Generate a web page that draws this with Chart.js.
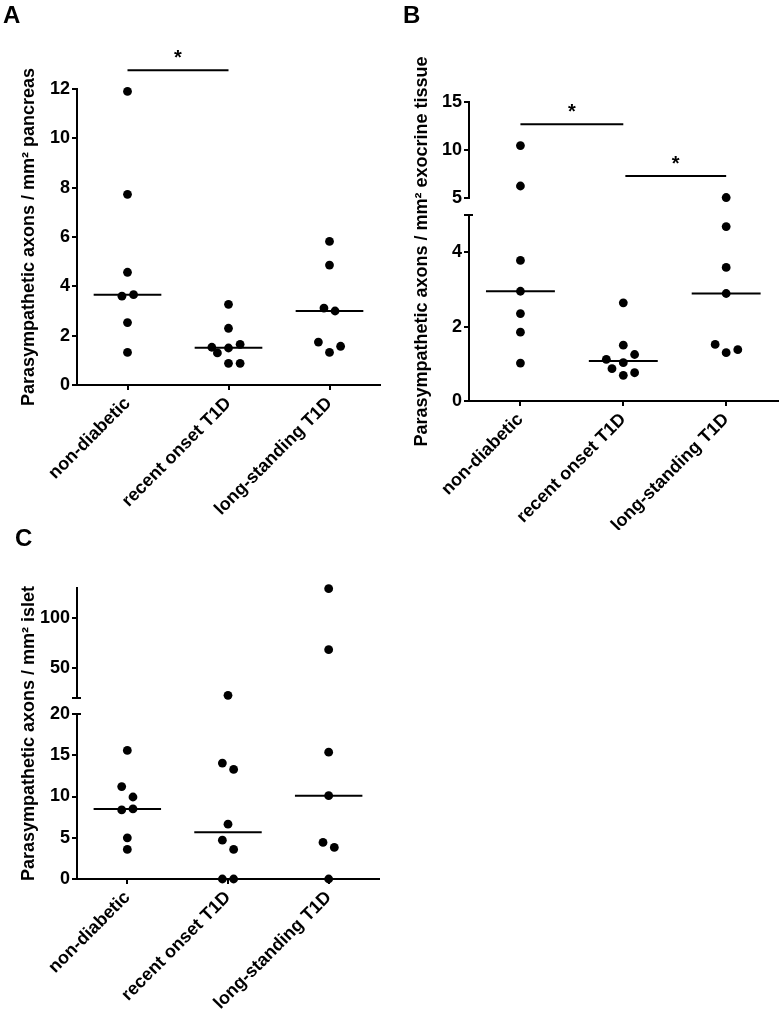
<!DOCTYPE html>
<html>
<head>
<meta charset="utf-8">
<script src="https://cdn.jsdelivr.net/npm/chart.js@4.4.1/dist/chart.umd.min.js"></script>
<style>
  body { margin: 0; background: #fff; }
  #wrap { position: relative; width: 782px; height: 1016px; }
  canvas { position: absolute; }
</style>
</head>
<body>
<div id="wrap">
  <canvas id="a" width="391" height="530" style="left:0;top:0"></canvas>
  <canvas id="bLow" width="391" height="530" style="left:391px;top:0"></canvas>
  <canvas id="bHigh" width="391" height="530" style="left:391px;top:0"></canvas>
  <canvas id="cLow" width="391" height="496" style="left:0;top:520px"></canvas>
  <canvas id="cHigh" width="391" height="496" style="left:0;top:520px"></canvas>
</div>
<script>
const groups = ['non-diabetic', 'recent onset T1D', 'long-standing T1D'];

// A - parasympathetic axons / mm2 pancreas
const pancreasNonDiabetic = [11.9, 7.73, 4.57, 3.6, 3.66, 2.53, 1.32];
const pancreasRecent = [3.27, 2.3, 1.53, 1.3, 1.5, 1.65, 0.88, 0.88];
const pancreasLong = [5.82, 4.86, 3.12, 3.0, 1.74, 1.32, 1.57];
const pancreasTicks = [0, 2, 4, 6, 8, 10, 12];

// B - per mm2 exocrine tissue (axis broken at 5)
const exoNonDiabetic = [10.46, 6.25, 3.78, 2.95, 2.35, 1.85, 1.02];
const exoRecent = [2.64, 1.5, 1.25, 1.12, 1.03, 0.87, 0.69, 0.76];
const exoLong = [5.05, 4.69, 3.59, 2.89, 1.52, 1.3, 1.38];
const exoLowTicks = [0, 2, 4, 5];
const exoHighTicks = [5, 10, 15];

// C - per mm2 islet (axis broken at 20)
const isletNonDiabetic = [15.58, 11.2, 9.94, 8.37, 8.49, 4.99, 3.58];
const isletRecent = [22.7, 14.05, 13.28, 6.64, 4.71, 3.58, 0, 0];
const isletLong = [129.3, 68.3, 15.37, 10.1, 4.43, 3.83, 0];
const isletLowTicks = [0, 5, 10, 15, 20];
const isletHighTicks = [20, 50, 100];

// sideways shift of touching dots (fraction of a category)
const pancreasShift = [[0, 0, 0, -0.055, 0.06, 0, 0], [0, 0, -0.165, -0.11, 0, 0.115, 0, 0.115], [0, 0, -0.055, 0.055, -0.11, 0, 0.11]];
const exoShift = [[0, 0, 0, 0, 0, 0, 0], [0, 0, 0.11, -0.165, 0, -0.11, 0, 0.11], [0, 0, 0, 0, -0.107, 0, 0.113]];
const isletShift = [[0, -0.056, 0.056, -0.056, 0.056, 0, 0], [0, -0.056, 0.056, 0, -0.056, 0.056, -0.056, 0.056], [0, 0, 0, 0, -0.056, 0.056, 0]];

// significance bars: [from group, to group, level]
const pancreasSig = [[0, 1, 12.76]];
const exoSig = [[0, 1, 12.68], [1.02, 2, 7.29]];

const FONT = 'Arial, "Liberation Sans", sans-serif';
const tickFont = { family: FONT, size: 18, weight: 'bold' };

function median(a) {
  const s = [...a].sort((p, q) => p - q);
  const n = s.length;
  return n % 2 ? s[(n - 1) / 2] : (s[n / 2 - 1] + s[n / 2]) / 2;
}

function dots(series, shift, lo, hi) {
  const pts = [];
  series.forEach((vals, g) => vals.forEach((v, i) => {
    if (v > lo && v <= hi) pts.push({ x: g + shift[g][i], y: v });
  }));
  return { data: pts, pointRadius: 4.4, pointHoverRadius: 4.4, backgroundColor: '#000', borderWidth: 0, clip: false };
}

function segment(x0, x1, y) {
  return { data: [{ x: x0, y: y }, { x: x1, y: y }], showLine: true, borderColor: '#000', borderWidth: 2, pointRadius: 0, clip: false };
}

function medians(series) {
  return series.map((vals, g) => segment(g - 0.335, g + 0.335, median(vals)));
}

function yScale(min, max, ticks, width, blank) {
  return {
    min: min, max: max,
    afterBuildTicks: s => { s.ticks = ticks.map(v => ({ value: v })); },
    afterFit: s => { s.width = width; },
    grid: { display: true, drawOnChartArea: false, drawTicks: true, tickLength: 5, lineWidth: 2, color: '#000' },
    border: { display: true, width: 2, color: '#000' },
    ticks: { color: '#000', font: tickFont, padding: 2, callback: v => (v === blank ? '' : v) }
  };
}

function xScale(height) {
  return {
    min: -0.5, max: 2.5,
    display: height > 0,
    afterBuildTicks: s => { s.ticks = [0, 1, 2].map(v => ({ value: v })); },
    afterFit: s => { s.height = height; },
    grid: { display: true, drawOnChartArea: false, drawTicks: true, tickLength: 5, lineWidth: 2, color: '#000' },
    border: { display: true, width: 2, color: '#000' },
    ticks: { color: '#000', font: tickFont, padding: 3, autoSkip: false, minRotation: 45, maxRotation: 45, callback: v => groups[v] }
  };
}

// panel letter, side title, stars and break caps
function decor(o) {
  return {
    id: 'decor',
    afterDraw(chart) {
      const ctx = chart.ctx, area = chart.chartArea;
      const xs = chart.scales.x, ys = chart.scales.y;
      ctx.save();
      ctx.fillStyle = '#000';
      ctx.strokeStyle = '#000';
      if (o.letter) {
        ctx.font = 'bold 24px ' + FONT;
        ctx.textAlign = 'left';
        ctx.textBaseline = 'alphabetic';
        ctx.fillText(o.letter[0], o.letter[1], o.letter[2]);
      }
      if (o.title) {
        const top = o.upper ? o.upper.chartArea.top : area.top;
        ctx.font = 'bold 18px ' + FONT;
        ctx.textAlign = 'center';
        ctx.textBaseline = 'middle';
        ctx.translate(o.titleX, (top + area.bottom) / 2);
        ctx.rotate(-Math.PI / 2);
        ctx.fillText(o.title, 0, 0);
        ctx.setTransform(1, 0, 0, 1, 0, 0);
      }
      (o.sig || []).forEach(s => {
        ctx.font = 'bold 20px ' + FONT;
        ctx.textAlign = 'center';
        ctx.textBaseline = 'alphabetic';
        const x = (xs.getPixelForValue(s[0]) + xs.getPixelForValue(s[1])) / 2;
        ctx.fillText('*', x, ys.getPixelForValue(s[2]) - 6);
      });
      (o.caps || []).forEach(c => {
        const y = c === 'top' ? area.top : area.bottom;
        ctx.lineWidth = 2;
        ctx.beginPath();
        ctx.moveTo(area.left - 4, y);
        ctx.lineTo(area.left + 4, y);
        ctx.stroke();
      });
      ctx.restore();
    }
  };
}

function make(id, datasets, scales, padding, plugin) {
  return new Chart(document.getElementById(id), {
    type: 'scatter',
    data: { datasets: datasets },
    options: {
      responsive: false,
      animation: false,
      devicePixelRatio: 1,
      events: [],
      layout: { padding: padding },
      plugins: { legend: { display: false }, tooltip: { enabled: false } },
      scales: scales
    },
    plugins: [plugin]
  });
}

// Panel A
const pancreas = [pancreasNonDiabetic, pancreasRecent, pancreasLong];
make('a',
  [dots(pancreas, pancreasShift, -1, 99)].concat(medians(pancreas), pancreasSig.map(s => segment(s[0], s[1], s[2]))),
  { x: xScale(145), y: yScale(0, 12, pancreasTicks, 77) },
  { top: 89, right: 11, left: 0, bottom: 0 },
  decor({ letter: ['A', 3, 23], title: 'Parasympathetic axons / mm\u00b2 pancreas', titleX: 29.5, sig: pancreasSig }));

// Panel B (two stacked pieces)
const exo = [exoNonDiabetic, exoRecent, exoLong];
const bHigh = make('bHigh',
  [dots(exo, exoShift, 5, 15)].concat(exoSig.map(s => segment(s[0], s[1], s[2]))),
  { x: xScale(0), y: yScale(5, 15, exoHighTicks, 78) },
  { top: 102, right: 3, left: 0, bottom: 332 },
  decor({ sig: exoSig }));
make('bLow',
  [dots(exo, exoShift, -1, 5)].concat(medians(exo)),
  { x: xScale(129), y: yScale(0, 5, exoLowTicks, 78, 5) },
  { top: 215, right: 3, left: 0, bottom: 0 },
  decor({ letter: ['B', 12, 23], title: 'Parasympathetic axons / mm\u00b2 exocrine tissue', titleX: 31, upper: bHigh, caps: ['top'] }));

// Panel C (two stacked pieces)
const islet = [isletNonDiabetic, isletRecent, isletLong];
const cHigh = make('cHigh',
  [dots(islet, isletShift, 20, 140)],
  { x: xScale(0), y: yScale(20, 130, isletHighTicks, 77, 20) },
  { top: 68, right: 12, left: 0, bottom: 318 },
  decor({ caps: ['bottom'] }));
make('cLow',
  [dots(islet, isletShift, -1, 20)].concat(medians(islet)),
  { x: xScale(137), y: yScale(0, 20, isletLowTicks, 77) },
  { top: 194, right: 12, left: 0, bottom: 0 },
  decor({ letter: ['C', 15, 26], title: 'Parasympathetic axons / mm\u00b2 islet', titleX: 29.5, upper: cHigh, caps: ['top'] }));
</script>
</body>
</html>
